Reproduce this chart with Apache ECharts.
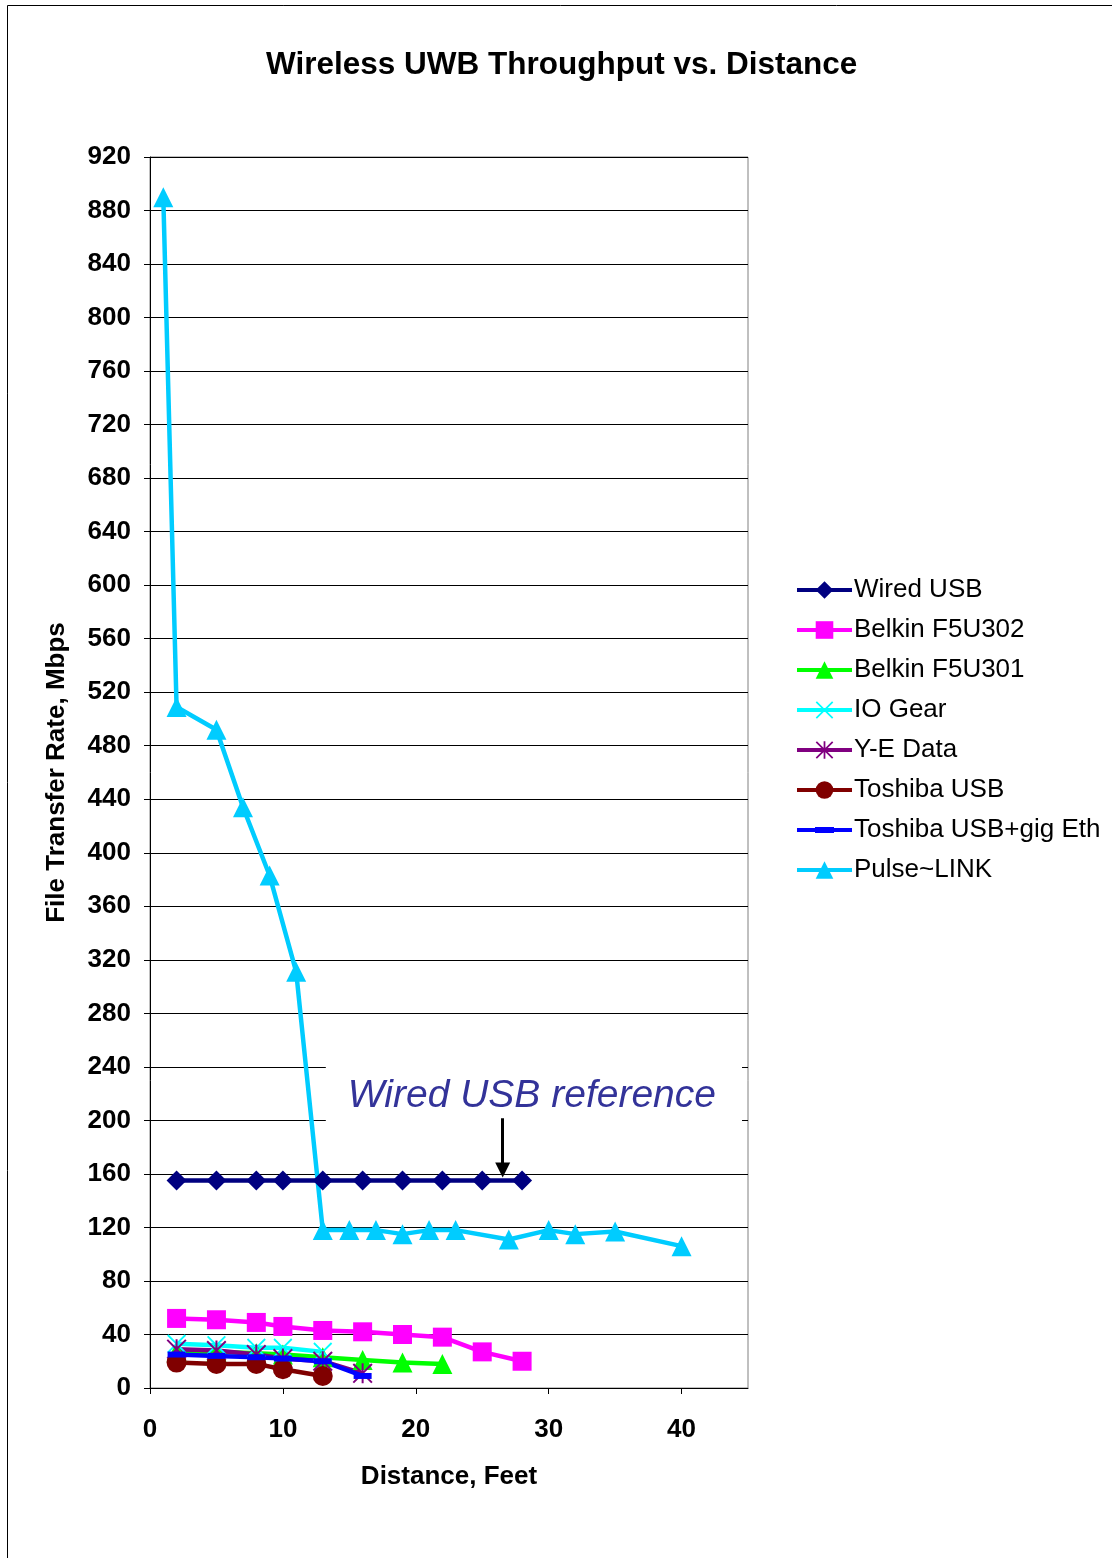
<!DOCTYPE html>
<html>
<head>
<meta charset="utf-8">
<script src="https://cdn.jsdelivr.net/npm/echarts@6/dist/echarts.min.js"></script>
<style>
html,body{margin:0;padding:0;background:#fff;}
#chart{width:1112px;height:1558px;}
</style>
</head>
<body>
<div id="chart"></div>
<script>
// ---- data ----
const wiredX = [2, 5, 8, 10, 13, 16, 19, 22, 25, 28];
const wiredUSB = [155, 155, 155, 155, 155, 155, 155, 155, 155, 155];
const belkin302X = [2, 5, 8, 10, 13, 16, 19, 22, 25, 28];
const belkin302 = [52, 51, 49, 46, 43, 42, 40, 38, 27, 20];
const belkin301X = [2, 5, 8, 10, 13, 16, 19, 22];
const belkin301 = [27, 27, 26, 25, 23, 21, 19, 18];
const ioGearX = [2, 5, 8, 10, 13];
const ioGear = [33, 32, 30, 30, 27];
const yeDataX = [2, 5, 8, 10, 13, 16];
const yeData = [29, 28, 25, 22, 20, 11];
const toshibaX = [2, 5, 8, 10, 13];
const toshiba = [19, 18, 18, 14, 9];
const toshibaGigX = [2, 5, 8, 10, 13, 16];
const toshibaGig = [25, 24, 23, 22, 20, 9];
const pulseX = [1, 2, 5, 7, 9, 11, 13, 15, 17, 19, 21, 23, 27, 30, 32, 35, 40];
const pulse = [890, 509, 492, 434, 383, 311, 118, 118, 118, 115, 118, 118, 111, 118, 115, 117, 106];
const seriesNames = ['Wired USB', 'Belkin F5U302', 'Belkin F5U301', 'IO Gear', 'Y-E Data', 'Toshiba USB', 'Toshiba USB+gig Eth', 'Pulse~LINK'];
const annotationText = 'Wired USB reference';

const FONT = "'Liberation Sans', Arial, sans-serif";
const pair = (xs, ys) => xs.map((x, i) => [x, ys[i]]);
const X_PATH = 'path://M0,1.4 L1.4,0 L10,8.6 L18.6,0 L20,1.4 L11.4,10 L20,18.6 L18.6,20 L10,11.4 L1.4,20 L0,18.6 L8.6,10 Z';
const STAR_PATH = 'path://M0,1.4 L1.4,0 L10,8.6 L18.6,0 L20,1.4 L11.4,10 L20,18.6 L18.6,20 L10,11.4 L1.4,20 L0,18.6 L8.6,10 Z M9,0 L11,0 L11,20 L9,20 Z';
const DASH_ICON = 'path://M0,0 L0,22 Z M0,9 L55,9 L55,13 L0,13 Z M18,8 L37,8 L37,14 L18,14 Z';

function mk(name, xs, ys, color, symbol, size, extra) {
  return Object.assign({
    name: name,
    type: 'line',
    data: pair(xs, ys),
    symbol: symbol,
    symbolSize: size,
    showAllSymbol: true,
    lineStyle: { color: color, width: 4.5 },
    itemStyle: { color: color, opacity: 1 },
    emphasis: { disabled: true },
    animation: false
  }, extra || {});
}

const chart = echarts.init(document.getElementById('chart'), null, { renderer: 'canvas' });
const option = {
  backgroundColor: '#ffffff',
  animation: false,
  title: {
    text: 'Wireless UWB Throughput vs. Distance',
    left: 266,
    top: 49,
    padding: 0,
    textStyle: { fontFamily: FONT, fontSize: 31.5, fontWeight: 'bold', color: '#000' }
  },
  graphic: [{
    type: 'rect',
    shape: { x: 7.5, y: 5.5, width: 1300, height: 1700 },
    style: { fill: 'none', stroke: '#000', lineWidth: 1 },
    z: -10, silent: true
  }],
  legend: {
    orient: 'vertical',
    left: 795,
    top: 577,
    padding: 0,
    itemWidth: 55,
    itemHeight: 22,
    itemGap: 14,
    lineStyle: { width: 4 },
    textStyle: { fontFamily: FONT, fontSize: 26, color: '#000', padding: [0, 0, 0, -3] },
    data: seriesNames.map(n => n === 'Toshiba USB+gig Eth' ? { name: n, icon: DASH_ICON } : { name: n })
  },
  grid: {
    left: 150, right: 364, top: 157, bottom: 170,
    show: true, borderColor: '#808080', borderWidth: 1, backgroundColor: 'transparent'
  },
  xAxis: {
    type: 'value',
    min: 0, max: 45, interval: 10,
    name: 'Distance, Feet',
    nameLocation: 'middle',
    nameGap: 76,
    nameTextStyle: { fontFamily: FONT, fontSize: 26, fontWeight: 'bold', color: '#000' },
    axisLine: { show: true, onZero: false, lineStyle: { color: '#000', width: 1 } },
    axisTick: { show: true, inside: false, length: 6, lineStyle: { color: '#000' } },
    axisLabel: { fontFamily: FONT, fontSize: 26, fontWeight: 'bold', color: '#000', margin: 29, showMaxLabel: false },
    splitLine: { show: false }
  },
  yAxis: {
    type: 'value',
    min: 0, max: 920, interval: 40,
    name: 'File Transfer Rate, Mbps',
    nameLocation: 'middle',
    nameGap: 80,
    nameTextStyle: { fontFamily: FONT, fontSize: 26, fontWeight: 'bold', color: '#000' },
    axisLine: { show: true, lineStyle: { color: '#000', width: 1 } },
    axisTick: { show: true, inside: false, length: 6, lineStyle: { color: '#000' } },
    axisLabel: { fontFamily: FONT, fontSize: 26, fontWeight: 'bold', color: '#000', margin: 19 },
    splitLine: { show: true, lineStyle: { color: '#000', width: 1 } }
  },
  series: [
    mk(seriesNames[0], wiredX, wiredUSB, '#000080', 'diamond', 20, {
      markArea: {
        silent: true,
        itemStyle: { color: '#ffffff', opacity: 1 },
        label: {
          show: true, position: 'inside', offset: [-2, 4],
          fontFamily: FONT, fontSize: 39, fontStyle: 'italic', color: '#333399'
        },
        data: [[{ name: annotationText, coord: [13.23, 245] }, { coord: [44.55, 196.5] }]]
      },
      markLine: {
        silent: true,
        symbol: ['none', 'triangle'],
        symbolSize: [15, 15],
        lineStyle: { color: '#000', width: 3, type: 'solid' },
        label: { show: false },
        data: [[{ coord: [26.54, 201.6] }, { coord: [26.54, 163] }]]
      }
    }),
    mk(seriesNames[1], belkin302X, belkin302, '#FF00FF', 'rect', 19),
    mk(seriesNames[2], belkin301X, belkin301, '#00FF00', 'triangle', 20),
    mk(seriesNames[3], ioGearX, ioGear, '#00FFFF', X_PATH, 19),
    mk(seriesNames[4], yeDataX, yeData, '#800080', STAR_PATH, 20),
    mk(seriesNames[5], toshibaX, toshiba, '#800000', 'circle', 20),
    mk(seriesNames[6], toshibaGigX, toshibaGig, '#0000FF', 'rect', [18, 6]),
    mk(seriesNames[7], pulseX, pulse, '#00CCFF', 'triangle', 20)
  ]
};
chart.setOption(option);
</script>
</body>
</html>
